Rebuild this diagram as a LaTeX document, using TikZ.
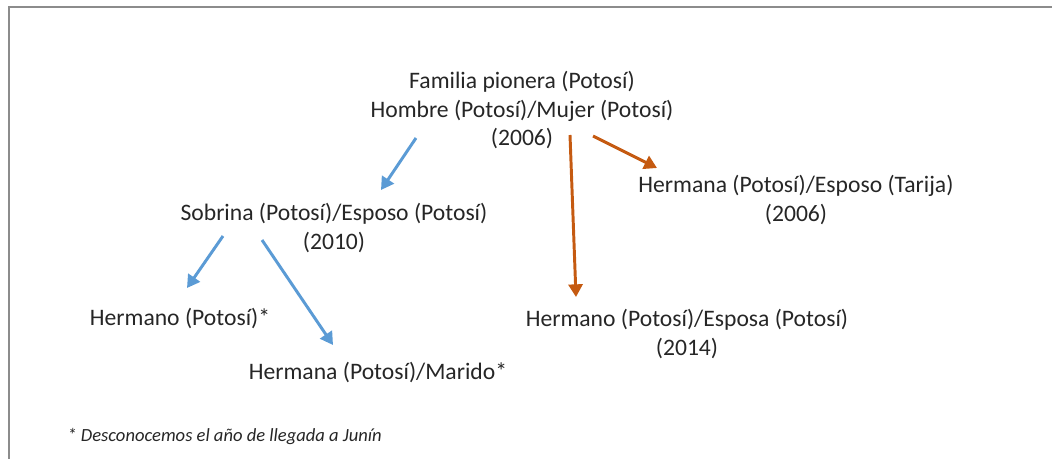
\documentclass[tikz,border=0pt]{standalone}
\usepackage{fontspec}
\setmainfont{Carlito}
\usepackage{tikz}
\usetikzlibrary{arrows.meta,calc}
\definecolor{azul}{HTML}{5B9BD5}
\definecolor{naranja}{HTML}{C55A11}
\definecolor{marco}{HTML}{8C8C8C}

\begin{document}
\begin{tikzpicture}[x=0.025cm,y=-0.025cm,
		line width=2.1pt,
		every node/.style={align=center,inner sep=0pt,text=black!85,
			font=\fontsize{16.8}{20.3}\selectfont}]
		\tikzstyle{flechaazul}=[draw=azul,-{Triangle[length=9pt,width=10pt]}]
		\tikzstyle{flechanaranja}=[draw=naranja,-{Triangle[length=9pt,width=10pt]}]
		\tikzstyle{nota}=[font=\fontsize{13.2}{15}\selectfont\itshape,anchor=west]
		
		\useasboundingbox (0,0) rectangle (1052,459);
		\draw[marco,line width=1.5pt] (1052,7) -- (9,7) -- (9,459);
		
		\node (fam) at (522,110) {Familia pionera (Potosí)\\Hombre (Potosí)/Mujer (Potosí)\\(2006)};
		\node (sob) at (334,228) {Sobrina (Potosí)/Esposo (Potosí)\\(2010)};
		\node (hta) at (796,200) {Hermana (Potosí)/Esposo (Tarija)\\(2006)};
		\node (hes) at (687,334) {Hermano (Potosí)/Esposa (Potosí)\\(2014)};
		\node (hpo) at (180,318) {Hermano (Potosí)*};
		\node (hma) at (378,372) {Hermana (Potosí)/Marido*};
		\node[nota] (nota) at (66,437) {* Desconocemos el año de llegada a Junín};
		
		% ramas azules
		\draw[flechaazul] ($(fam)+(-106,28)$) -- ($(sob)+(47,-38)$);
		\draw[flechaazul] ($(sob)+(-111,8)$) -- ($(hpo)+(7,-30)$);
		\draw[flechaazul] ($(sob)+(-72,12)$) -- ($(hma)+(-45,-27)$);
		
		% ramas naranjas
		\draw[flechanaranja] ($(fam)+(48,25)$) -- ($(hes)+(-111,-37)$);
		\draw[flechanaranja] ($(fam)+(71,26)$) -- ($(hta)+(-139,-32)$);
		
\end{tikzpicture}
\end{document}
